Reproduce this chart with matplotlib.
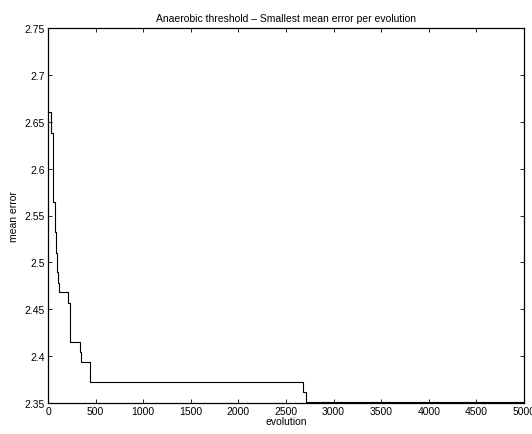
import matplotlib
matplotlib.use("Agg")
import matplotlib.pyplot as plt

# ── data ──────────────────────────────────────────────────────────────────────
evolution = [0, 28, 50, 75, 88, 98, 108, 120, 210, 236, 335, 350, 440,
             2680, 2712, 5000]
mean_error = [2.660, 2.638, 2.564, 2.532, 2.510, 2.490, 2.478, 2.468,
              2.457, 2.415, 2.404, 2.394, 2.372, 2.362, 2.351, 2.351]

x_ticks = [0, 500, 1000, 1500, 2000, 2500, 3000, 3500, 4000, 4500, 5000]
y_ticks = [2.35, 2.4, 2.45, 2.5, 2.55, 2.6, 2.65, 2.7, 2.75]
y_tick_labels = ["2.35", "2.4", "2.45", "2.5", "2.55", "2.6", "2.65", "2.7", "2.75"]

FONT = "Liberation Sans"
FS = 7.5

fig = plt.figure(figsize=(5.32, 4.35), dpi=100, facecolor="white")
# axes box: left 48, right 524, top 29, bottom 404 (pixels)
ax = fig.add_axes([48 / 532, 1 - 404 / 435, 476 / 532, 375 / 435])

ax.plot(evolution, mean_error, color="black", linewidth=0.8,
        drawstyle="steps-post", clip_on=False, zorder=3)

ax.set_xlim(0, 5000)
ax.set_ylim(2.35, 2.75)
ax.set_xticks(x_ticks)
ax.set_xticklabels([str(v) for v in x_ticks], fontsize=FS, fontfamily=FONT)
ax.set_yticks(y_ticks)
ax.set_yticklabels(y_tick_labels, fontsize=FS, fontfamily=FONT)

ax.tick_params(direction="in", length=3, width=0.6, top=True, right=True,
               pad=2.5)
for spine in ax.spines.values():
    spine.set_linewidth(0.9)

ax.set_title("Anaerobic threshold \u2013 Smallest mean error per evolution",
             fontsize=FS, fontfamily=FONT, pad=5)
ax.set_xlabel("evolution", fontsize=FS, fontfamily=FONT, labelpad=0)
ax.set_ylabel("mean error", fontsize=FS, fontfamily=FONT, labelpad=4)

fig.savefig("out.png", dpi=100)
